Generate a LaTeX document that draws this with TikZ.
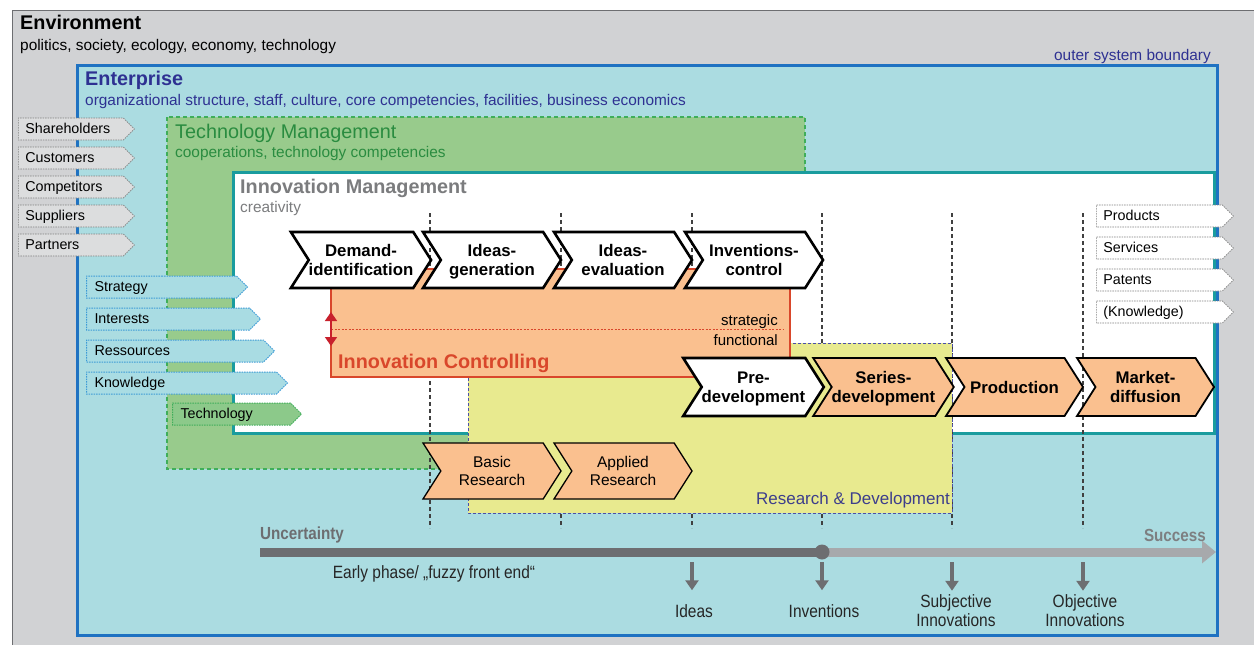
\documentclass[tikz,border=0pt]{standalone}
\usepackage{fontspec}
\setmainfont{Liberation Sans}
\newfontfamily\narrowfont[FakeStretch=0.87]{Liberation Sans}
\usepackage{xcolor}
\usepackage{tikz}
\usetikzlibrary{shapes.symbols,arrows.meta}

\definecolor{envgray}{HTML}{D1D2D4}
\definecolor{envline}{HTML}{6D6E71}
\definecolor{entcyan}{HTML}{ABDCE1}
\definecolor{entblue}{HTML}{1F72C2}
\definecolor{entink}{HTML}{2E3192}
\definecolor{techgreen}{HTML}{98CB8C}
\definecolor{techline}{HTML}{3FAE5A}
\definecolor{techink}{HTML}{2A8C40}
\definecolor{innoteal}{HTML}{1A9C9E}
\definecolor{innoink}{HTML}{7B7C7E}
\definecolor{rdyellow}{HTML}{E8EA8F}
\definecolor{rdline}{HTML}{4B4FA8}
\definecolor{rdink}{HTML}{3D3E8C}
\definecolor{ctrlfill}{HTML}{FAC08F}
\definecolor{ctrlred}{HTML}{D9472B}
\definecolor{ctrlarrow}{HTML}{C8202C}
\definecolor{taggray}{HTML}{DCDDDE}
\definecolor{tagblue}{HTML}{A9DCE3}
\definecolor{tagbline}{HTML}{3D9BD6}
\definecolor{tagtech}{HTML}{8CC98A}
\definecolor{timedark}{HTML}{6D6E71}
\definecolor{timelight}{HTML}{A7A9AC}

\begin{document}
\begin{tikzpicture}[x=1pt,y=-1pt,
	headline/.style={anchor=base west,inner sep=0pt,font=\fontsize{19.8}{22}\selectfont\bfseries},
	subline/.style={anchor=base west,inner sep=0pt,font=\fontsize{15.4}{17}\selectfont},
	stepchev/.style={signal,signal from=west,signal to=east,signal pointer angle=115,
		draw=black,line width=2.6pt,fill=white,minimum width=138pt,minimum height=56pt,
		inner sep=0pt,align=center,text depth=-1pt,font=\fontsize{16.8}{19}\selectfont\bfseries},
	orangechev/.style={stepchev,fill=ctrlfill,line width=1.8pt},
	flagtag/.style={signal,signal to=east,signal pointer angle=90,anchor=west,
		minimum height=22pt,inner xsep=7pt,inner ysep=0pt,align=left,
		text height=10.5pt,text depth=1pt,font=\fontsize{14.3}{16}\selectfont},
	graytag/.style={flagtag,fill=taggray,draw=gray,dash pattern=on 1.5pt off 1pt,line width=0.7pt,text width=91pt},
	bluetag/.style={flagtag,inner xsep=8pt,fill=tagblue,draw=tagbline,dash pattern=on 1.5pt off 1pt,line width=1pt},
	outtag/.style={flagtag,fill=white,draw=gray,dash pattern=on 1.5pt off 1pt,line width=0.7pt,text width=112pt},
	phase/.style={draw=black!75,line width=1.2pt,dash pattern=on 4pt off 3pt},
	timetext/.style={inner sep=0pt,font=\narrowfont\fontsize{17.8}{19}\selectfont},
	timebold/.style={inner sep=0pt,font=\narrowfont\fontsize{17.5}{19}\selectfont\bfseries},
	downarr/.style={timedark,line width=4.5pt,-{Triangle[length=10pt,width=13pt]},shorten >=4pt}]
	\useasboundingbox (0,0) rectangle (1254,645);

	\draw[fill=envgray,draw=envline,line width=1pt] (12,10) rectangle (1270,660);
	\node[headline] (envTitle) at (20,30) {Environment};
	\node[subline] (envSub) at (20,50.5) {politics, society, ecology, economy, technology};

	\draw[fill=entcyan,draw=entblue,line width=3pt] (77,65) rectangle (1217,635);
	\node[headline,text=entink] (entTitle) at (85,85) {Enterprise};
	\node[subline,text=entink] (entSub) at (85,105.5) {organizational structure, staff, culture, core competencies, facilities, business economics};
	\node[subline,anchor=base east,text=entink] (boundary) at (1211,60.5) {outer system boundary};

	\draw[fill=techgreen,draw=techline,line width=1.2pt,dash pattern=on 4pt off 3pt] (167,117) rectangle (805,469);
	\node[headline,font=\fontsize{19.8}{22}\selectfont,text=techink] (techTitle) at (175,138) {Technology Management};
	\node[subline,text=techink] (techSub) at (175,157.5) {cooperations, technology competencies};

	\draw[fill=white,draw=innoteal,line width=3pt] (233,172) rectangle (1214,433);
	\node[headline,text=innoink] (innoTitle) at (240,193) {Innovation Management};
	\node[subline,text=innoink] (innoSub) at (240,212.5) {creativity};

	\foreach \x in {430,561,692,822,952,1083}
		\draw[phase] (\x,213) -- (\x,528);

	\draw[fill=rdyellow,draw=rdline,line width=1pt,dash pattern=on 3pt off 2pt] (468,343) rectangle (952,513);
	\node[anchor=base east,inner sep=0pt,text=rdink,font=\fontsize{17}{19}\selectfont] (rdTitle) at (950,504) {Research \& Development};

	\draw[fill=ctrlfill,draw=ctrlred,line width=2.8pt] (331,269) rectangle (790,377);
	\draw[ctrlred,line width=0.8pt,dash pattern=on 2pt off 1.5pt] (331,329) -- (783,329);
	\node[anchor=base east,inner sep=0pt,font=\fontsize{15}{17}\selectfont] (ctrlStrat) at (778,325.5) {strategic};
	\node[anchor=base east,inner sep=0pt,font=\fontsize{15}{17}\selectfont] (ctrlFunc) at (778,345.5) {functional};
	\node[headline,text=ctrlred] (ctrlTitle) at (338,368) {Innovation Controlling};
	\coordinate (levelUp) at (331,312);
	\coordinate (levelDown) at (331,346);
	\draw[ctrlarrow,line width=1.6pt,{Triangle[length=9pt,width=12pt]}-{Triangle[length=9pt,width=12pt]}] (levelUp) -- (levelDown);

	\node[stepchev] (demand) at (361,260) {Demand-\\identification};
	\node[stepchev] (ideasGen) at (492,260) {Ideas-\\generation};
	\node[stepchev] (ideasEval) at (623,260) {Ideas-\\evaluation};
	\node[stepchev] (inventCtrl) at (754,260) {Inventions-\\control};

	\node[stepchev,minimum width=137pt,minimum height=58pt] (preDev) at (753.5,387) {Pre-\\development};
	\node[orangechev,minimum width=137pt,minimum height=58pt] (seriesDev) at (883.5,387) {Series-\\development};
	\node[orangechev,minimum width=137pt,minimum height=58pt] (production) at (1014.5,387) {Production};
	\node[orangechev,minimum width=137pt,minimum height=58pt] (diffusion) at (1145.5,387) {Market-\\diffusion};

	\node[orangechev,line width=1.3pt,font=\fontsize{15.5}{18.5}\selectfont] (basicRes) at (492,471) {Basic\\Research};
	\node[orangechev,line width=1.3pt,font=\fontsize{15.5}{18.5}\selectfont] (appliedRes) at (623,471) {Applied\\Research};

	\node[graytag] (shareholders) at (18,129) {Shareholders};
	\node[graytag] (customers) at (18,158) {Customers};
	\node[graytag] (competitors) at (18,187) {Competitors};
	\node[graytag] (suppliers) at (18,216) {Suppliers};
	\node[graytag] (partners) at (18,245) {Partners};

	\node[bluetag,text width=134pt] (strategy) at (86,287) {Strategy};
	\node[bluetag,text width=147pt] (interests) at (86,319) {Interests};
	\node[bluetag,text width=161pt] (ressources) at (86,351) {Ressources};
	\node[bluetag,text width=174pt] (knowledgeIn) at (86,383) {Knowledge};
	\node[bluetag,fill=tagtech,draw=techline,text width=102pt] (technologyIn) at (172,414) {Technology};

	\node[outtag] (products) at (1096,216) {Products};
	\node[outtag] (services) at (1096,248) {Services};
	\node[outtag] (patents) at (1096,280) {Patents};
	\node[outtag] (knowledgeOut) at (1096,312) {(Knowledge)};

	\coordinate (timeStart) at (260,552);
	\coordinate (timeMile) at (822,552);
	\coordinate (timeEnd) at (1216,552);
	\draw[timedark,line width=9pt] (timeStart) -- (timeMile);
	\draw[timelight,line width=9pt,-{Triangle[length=14pt,width=22pt]}] (timeMile) -- (timeEnd);
	\node[circle,fill=timedark,minimum size=15pt,inner sep=0pt] (mile) at (timeMile) {};
	\node[timebold,anchor=west,text=timedark] (uncertainty) at (260,535) {Uncertainty};
	\node[timebold,anchor=east,text=timelight!75!black] (success) at (1206,535) {Success};
	\node[timetext,text=black!85] (fuzzy) at (434,574) {Early phase/ „fuzzy front end“};

	\node[timetext,text=black!85] (ideas) at (694,611) {Ideas};
	\node[timetext,text=black!85] (inventions) at (824,611) {Inventions};
	\node[timetext,text=black!85,align=center] (subjInno) at (956,611) {Subjective\\Innovations};
	\node[timetext,text=black!85,align=center] (objInno) at (1085,611) {Objective\\Innovations};
	\coordinate (ideasTop) at (692,562);
	\coordinate (inventTop) at (822,562);
	\coordinate (subjTop) at (952,562);
	\coordinate (objTop) at (1083,562);
	\draw[downarr,shorten >=14pt] (ideasTop) -- (ideasTop |- ideas.north);
	\draw[downarr,shorten >=14pt] (inventTop) -- (inventTop |- inventions.north);
	\draw[downarr] (subjTop) -- (subjTop |- subjInno.north);
	\draw[downarr] (objTop) -- (objTop |- objInno.north);
\end{tikzpicture}
\end{document}
